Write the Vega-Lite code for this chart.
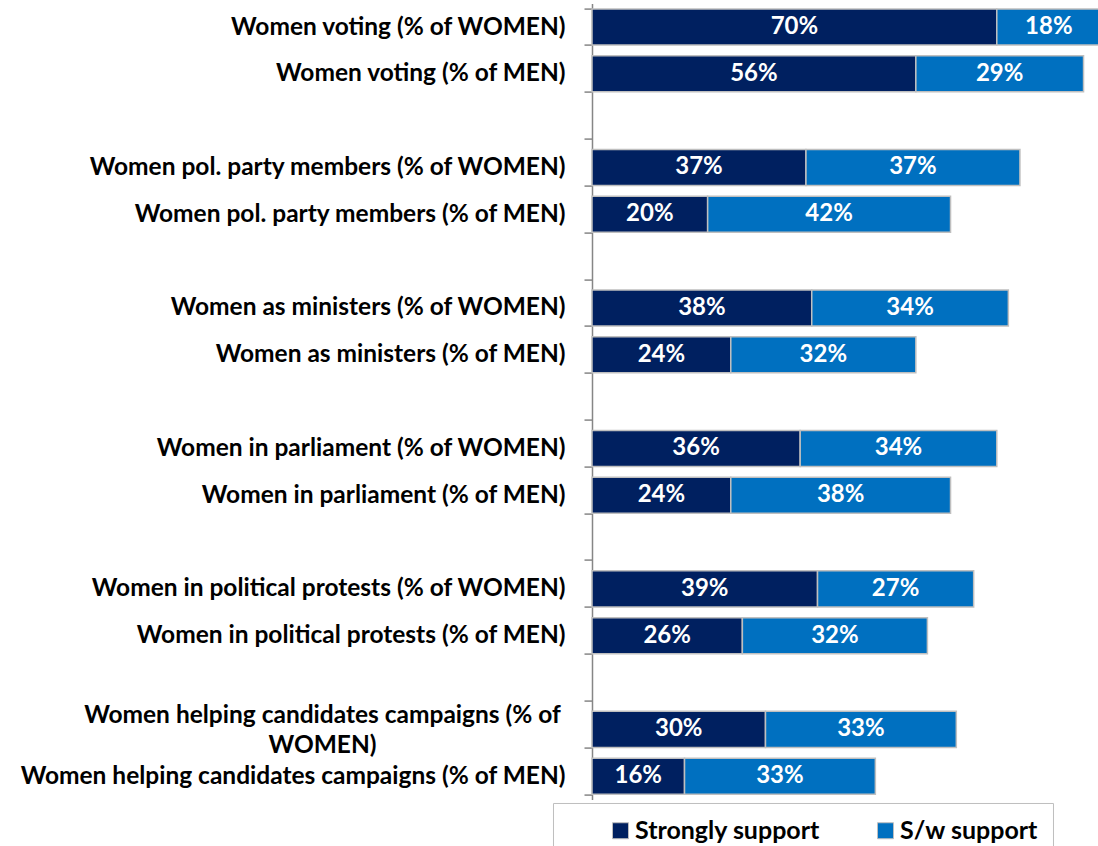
{
  "$schema": "https://vega.github.io/schema/vega-lite/v6.json",
  "autosize": {"type": "none"},
  "padding": {"left": 592, "top": 3.6, "right": 0, "bottom": 50},
  "width": 506,
  "height": 796,
  "background": "white",
  "config": {"view": {"stroke": null}, "font": "Lato"},
  "data": {"values": [
    {"cat": "Women voting (% of WOMEN)", "type": "Strongly support", "value": 70},
    {"cat": "Women voting (% of WOMEN)", "type": "S/w support", "value": 18},
    {"cat": "Women voting (% of MEN)", "type": "Strongly support", "value": 56},
    {"cat": "Women voting (% of MEN)", "type": "S/w support", "value": 29},
    {"cat": "Women pol. party members (% of WOMEN)", "type": "Strongly support", "value": 37},
    {"cat": "Women pol. party members (% of WOMEN)", "type": "S/w support", "value": 37},
    {"cat": "Women pol. party members (% of MEN)", "type": "Strongly support", "value": 20},
    {"cat": "Women pol. party members (% of MEN)", "type": "S/w support", "value": 42},
    {"cat": "Women as ministers (% of WOMEN)", "type": "Strongly support", "value": 38},
    {"cat": "Women as ministers (% of WOMEN)", "type": "S/w support", "value": 34},
    {"cat": "Women as ministers (% of MEN)", "type": "Strongly support", "value": 24},
    {"cat": "Women as ministers (% of MEN)", "type": "S/w support", "value": 32},
    {"cat": "Women in parliament (% of WOMEN)", "type": "Strongly support", "value": 36},
    {"cat": "Women in parliament (% of WOMEN)", "type": "S/w support", "value": 34},
    {"cat": "Women in parliament (% of MEN)", "type": "Strongly support", "value": 24},
    {"cat": "Women in parliament (% of MEN)", "type": "S/w support", "value": 38},
    {"cat": "Women in political protests (% of WOMEN)", "type": "Strongly support", "value": 39},
    {"cat": "Women in political protests (% of WOMEN)", "type": "S/w support", "value": 27},
    {"cat": "Women in political protests (% of MEN)", "type": "Strongly support", "value": 26},
    {"cat": "Women in political protests (% of MEN)", "type": "S/w support", "value": 32},
    {"cat": "Women helping candidates campaigns (% of WOMEN)", "type": "Strongly support", "value": 30},
    {"cat": "Women helping candidates campaigns (% of WOMEN)", "type": "S/w support", "value": 33},
    {"cat": "Women helping candidates campaigns (% of MEN)", "type": "Strongly support", "value": 16},
    {"cat": "Women helping candidates campaigns (% of MEN)", "type": "S/w support", "value": 33}
  ]},
  "transform": [
    {"stack": "value", "groupby": ["cat"], "sort": [{"field": "type", "order": "descending"}], "as": ["v0", "v1"]},
    {"calculate": "(datum.v0 + datum.v1) / 2", "as": "vmid"}
  ],
  "encoding": {
    "y": {
      "field": "cat", "type": "nominal",
      "scale": {
        "domain": [
          "Women voting (% of WOMEN)", "Women voting (% of MEN)", "gap1",
          "Women pol. party members (% of WOMEN)", "Women pol. party members (% of MEN)", "gap2",
          "Women as ministers (% of WOMEN)", "Women as ministers (% of MEN)", "gap3",
          "Women in parliament (% of WOMEN)", "Women in parliament (% of MEN)", "gap4",
          "Women in political protests (% of WOMEN)", "Women in political protests (% of MEN)", "gap5",
          "Women helping candidates campaigns (% of WOMEN)", "Women helping candidates campaigns (% of MEN)"
        ],
        "paddingInner": 0.23, "paddingOuter": 0.115
      },
      "axis": {
        "title": null,
        "tickBand": "extent",
        "domainColor": "#868686", "domainWidth": 1.5,
        "tickColor": "#868686", "tickWidth": 1.5, "tickSize": 8,
        "labelFont": "Lato", "labelFontWeight": "bold", "labelFontSize": 24.5, "labelColor": "#000000",
        "labelLimit": 800, "labelLineHeight": 30,
        "labelAlign": {"condition": {"test": "datum.value == 'Women helping candidates campaigns (% of WOMEN)'", "value": "center"}, "value": "right"},
        "labelPadding": {"condition": {"test": "datum.value == 'Women helping candidates campaigns (% of WOMEN)'", "value": 262}, "value": 19},
        "labelOffset": {"condition": {"test": "datum.value == 'Women helping candidates campaigns (% of WOMEN)'", "value": -14}, "value": 0},
        "labelExpr": "!isString(datum.value) ? '' : (indexof(datum.value, 'gap') == 0 ? '' : (datum.value == 'Women helping candidates campaigns (% of WOMEN)' ? ['Women helping candidates campaigns (% of', 'WOMEN)'] : datum.value))"
      }
    }
  },
  "layer": [
    {
      "mark": {"type": "bar", "stroke": "#bfbfbf", "strokeWidth": 1.5},
      "encoding": {
        "x": {"field": "v0", "type": "quantitative", "scale": {"domain": [0, 87.5], "nice": false}, "axis": null},
        "x2": {"field": "v1"},
        "color": {
          "field": "type", "type": "nominal",
          "scale": {"domain": ["Strongly support", "S/w support"], "range": ["#002060", "#0070C0"]},
          "legend": {
            "title": null, "orient": "none", "legendX": -39, "legendY": 799.4,
            "direction": "horizontal", "strokeColor": "#bfbfbf", "padding": 15,
            "symbolType": "square", "symbolSize": 256, "symbolStrokeColor": "#bfbfbf", "symbolStrokeWidth": 1,
            "symbolOffset": 40, "columnPadding": 12, "labelOffset": 2,
            "labelFont": "Lato", "labelFontWeight": "bold", "labelFontSize": 25, "labelColor": "#000000", "labelLimit": 400
          }
        }
      }
    },
    {
      "mark": {"type": "text", "color": "white", "font": "Lato", "fontWeight": "bold", "fontSize": 24, "align": "center", "baseline": "middle", "text": {"expr": "datum.value + '%'"}},
      "encoding": {
        "x": {"field": "vmid", "type": "quantitative"}
      }
    }
  ]
}
